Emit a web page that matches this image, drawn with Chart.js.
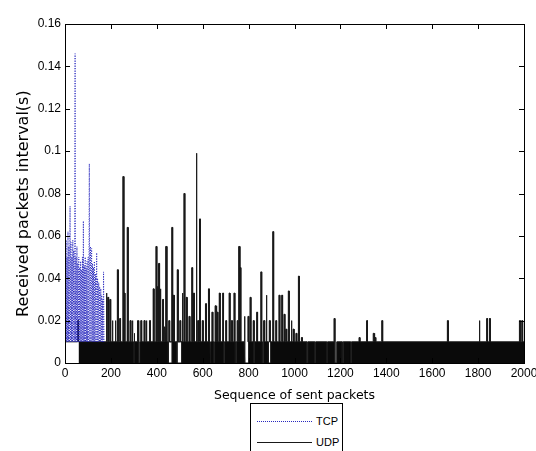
<!DOCTYPE html>
<html>
<head>
<meta charset="utf-8">
<script src="https://cdn.jsdelivr.net/npm/chart.js@4/dist/chart.umd.min.js"></script>
<style>
  body { margin: 0; background: #fff; }
  #wrap { position: relative; width: 536px; height: 451px; overflow: hidden; }
  #legend { position: absolute; left: 250px; top: 403px; width: 91px; height: 60px;
            border: 1px solid #000; background: #fff; font: 11px 'Liberation Sans', Arial, sans-serif; }
  .row { position: absolute; left: 6px; height: 14px; }
  .row span.ln { position: absolute; left: 0; top: 7px; width: 55px; height: 0; }
  .row span.tx { position: absolute; left: 59px; top: 0; line-height: 14px; }
</style>
</head>
<body>
<div id="wrap">
  <canvas id="chart" width="536" height="451"></canvas>
  <div id="legend"></div>
</div>
<script>
// TCP: received interval per sent packet (zig-zag between 0.01 and peaks)
const tcpX = [0,1,3,5,7,9,11,13,15,17,19,22,24,26,28,30,32,34,36,38,41,44,46,48,50,52,54,56,58,60,
              62,64,66,68,70,72,74,76,78,80,82,84,86,88,90,92,94,96,98,101,103,106,108,111,113,116,118,120,
              122,124,126,128,130,133,135,138,140,142,144,147,149,151,153,156,158,160,162,164,166,168,170];
const tcpY = [0.01,0.052,0.01,0.058,0.01,0.05,0.01,0.062,0.01,0.055,0.01,0.074,0.01,0.057,0.01,0.05,0.01,0.058,0.01,0.053,
              0.01,0.146,0.01,0.05,0.01,0.055,0.01,0.047,0.01,0.05,0.01,0.045,0.01,0.048,0.01,0.044,0.01,0.05,0.01,0.067,
              0.01,0.046,0.01,0.05,0.01,0.045,0.01,0.048,0.01,0.05,0.01,0.094,0.01,0.055,0.01,0.054,0.01,0.047,0.01,0.045,
              0.01,0.048,0.01,0.042,0.01,0.052,0.01,0.04,0.01,0.038,0.01,0.036,0.01,0.035,0.01,0.032,0.01,0.03,0.01,0.043,0.01];

// UDP: baseline level, where it starts filling, spikes and drop-outs
const udpBase = 0.01;
const udpFillStart = 83;
const udpEnd = 2000;
const udpSpikeX = [55,179,186,195,205,218,228,238,252,257,271,283,292,301,316,330,344,353,368,384,396,402,408,414,425,432,440,452,
                   465,472,489,500,510,518,528,540,552,560,571,578,586,598,612,625,640,654,662,672,687,700,715,725,736,750,758,762,
                   780,797,806,820,835,853,866,876,890,905,918,932,944,954,962,973,985,994,1006,1017,1030,1172,1281,1314,1343,1350,
                   1380,1666,1804,1837,1849,1980,1990];
const udpSpikeY = [0.02,0.033,0.031,0.03,0.02,0.02,0.044,0.021,0.088,0.033,0.064,0.02,0.02,0.014,0.02,0.02,0.02,0.02,0.02,0.035,0.055,0.036,0.047,0.035,0.03,0.017,0.055,0.02,
                   0.064,0.032,0.044,0.02,0.033,0.080,0.031,0.022,0.045,0.033,0.099,0.02,0.068,0.02,0.028,0.035,0.024,0.027,0.024,0.033,0.033,0.02,0.033,0.02,0.033,0.02,0.055,0.045,
                   0.022,0.022,0.031,0.02,0.024,0.043,0.02,0.032,0.02,0.062,0.02,0.032,0.032,0.023,0.016,0.034,0.02,0.016,0.014,0.041,0.012,0.021,0.012,0.02,0.014,0.012,
                   0.02,0.02,0.02,0.021,0.021,0.02,0.02];
const udpGapFrom = [298,322,450,488,632,648,690,742,784,822,860,886,1054,1088,1140,1176,1208,1244];
const udpGapTo   = [302,326,466,508,636,652,694,746,800,826,864,896,1058,1092,1144,1184,1212,1248];

const xTicks = [0,200,400,600,800,1000,1200,1400,1600,1800,2000];
const yTicks = [0,0.02,0.04,0.06,0.08,0.1,0.12,0.14,0.16];

const tcpPoints = tcpX.map((x, i) => ({x: x, y: tcpY[i]}));

// build the UDP trace from the listed events
const spikeW = 4;
const events = [];
udpSpikeX.forEach((x, i) => events.push({x: x, type: 'spike', h: udpSpikeY[i]}));
udpGapFrom.forEach((x, i) => events.push({x: x, type: 'gap', to: udpGapTo[i]}));
events.sort((a, b) => a.x - b.x);
const udpPoints = [{x: 0, y: udpBase}];
events.forEach(e => {
  if (e.type === 'spike') {
    udpPoints.push({x: e.x, y: udpBase}, {x: e.x, y: e.h}, {x: e.x + spikeW, y: e.h}, {x: e.x + spikeW, y: udpBase});
  } else {
    udpPoints.push({x: e.x, y: udpBase}, {x: e.x, y: 0}, {x: e.to, y: 0}, {x: e.to, y: udpBase});
  }
});
udpPoints.push({x: udpEnd, y: udpBase});

const boxTicks = {
  id: 'boxTicks',
  afterDatasetsDraw(chart) {
    const {ctx, chartArea: a, scales} = chart;
    ctx.save();
    ctx.strokeStyle = '#000';
    ctx.lineWidth = 1;
    ctx.beginPath();
    xTicks.forEach(v => {
      const px = Math.round(scales.x.getPixelForValue(v)) + 0.5;
      ctx.moveTo(px, a.bottom); ctx.lineTo(px, a.bottom - 5);
      ctx.moveTo(px, a.top); ctx.lineTo(px, a.top + 5);
    });
    yTicks.forEach(v => {
      const py = Math.round(scales.y.getPixelForValue(v)) + 0.5;
      ctx.moveTo(a.left, py); ctx.lineTo(a.left + 5, py);
      ctx.moveTo(a.right, py); ctx.lineTo(a.right - 5, py);
    });
    ctx.stroke();
    ctx.strokeRect(Math.round(a.left) + 0.5, Math.round(a.top) + 0.5,
                   Math.round(a.right - a.left), Math.round(a.bottom - a.top));
    ctx.restore();
  }
};

Chart.defaults.font.family = "'Liberation Sans', Arial, sans-serif";
Chart.defaults.font.size = 12;
Chart.defaults.color = '#000';

const chart = new Chart(document.getElementById('chart'), {
  type: 'line',
  data: {
    datasets: [{
      label: 'TCP',
      data: tcpPoints,
      borderColor: 'rgb(40,40,190)',
      borderWidth: 1,
      borderDash: [1, 1.5],
      pointRadius: 0,
      fill: false
    }, {
      label: 'UDP',
      data: udpPoints,
      borderColor: 'rgb(25,25,25)',
      backgroundColor: 'rgb(10,10,10)',
      borderWidth: 1,
      pointRadius: 0,
      fill: 'origin',
      segment: {
        backgroundColor: c => c.p1.parsed.x <= udpFillStart ? 'rgba(0,0,0,0)' : undefined
      }
    }]
  },
  options: {
    responsive: false,
    animation: false,
    layout: { padding: { left: 0, right: 12, top: 24, bottom: 48 } },
    plugins: { legend: { display: false }, tooltip: { enabled: false } },
    scales: {
      x: {
        type: 'linear', min: 0, max: 2000,
        grid: { display: false, drawTicks: false },
        border: { display: false },
        ticks: { stepSize: 200, padding: 3, maxRotation: 0, callback: v => String(v) },
        title: { display: true, text: 'Sequence of sent packets',
                 font: { family: "'DejaVu Sans', sans-serif", size: 12.5 }, padding: { top: 0, bottom: 0 } },
        afterFit: s => { s.height = 40; s.paddingLeft = 0; s.paddingRight = 0; }
      },
      y: {
        min: 0, max: 0.16,
        grid: { display: false, drawTicks: false },
        border: { display: false },
        ticks: { stepSize: 0.02, padding: 4, callback: v => String(+v.toFixed(2)) },
        title: { display: true, text: 'Received packets interval(s)    ',
                 font: { family: "'DejaVu Sans', sans-serif", size: 16 }, padding: { top: 14, bottom: 0 } },
        afterFit: s => { s.width = 65; }
      }
    }
  },
  plugins: [boxTicks]
});

// legend box below the axis title
const legend = document.getElementById('legend');
chart.data.datasets.forEach((ds, i) => {
  const row = document.createElement('div');
  row.className = 'row';
  row.style.top = (10 + i * 21) + 'px';
  const ln = document.createElement('span');
  ln.className = 'ln';
  ln.style.borderTop = '1px ' + (ds.borderDash ? 'dotted ' : 'solid ') + ds.borderColor;
  const tx = document.createElement('span');
  tx.className = 'tx';
  tx.textContent = ds.label;
  row.appendChild(ln);
  row.appendChild(tx);
  legend.appendChild(row);
});
</script>
</body>
</html>
